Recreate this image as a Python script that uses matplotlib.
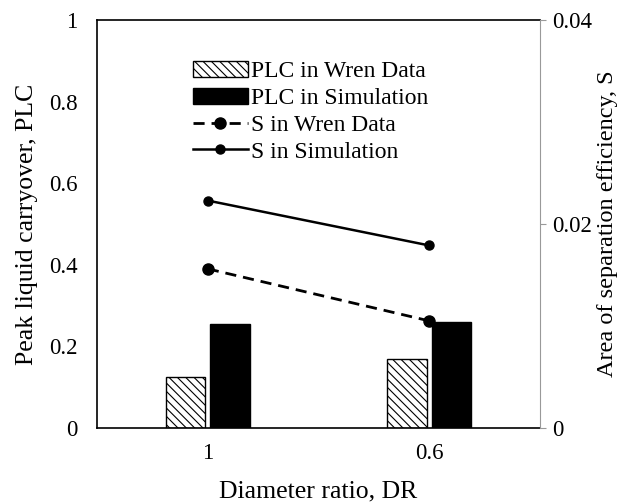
import matplotlib.pyplot as plt
import numpy as np

plt.rcParams['font.family'] = ['Liberation Serif', 'DejaVu Serif']
plt.rcParams['hatch.linewidth'] = 0.8

categories = ['1', '0.6']
plc_wren = [0.125, 0.169]
plc_sim = [0.255, 0.26]
s_wren = [0.0156, 0.0105]
s_sim = [0.0223, 0.0179]

x = np.arange(len(categories))
width = 0.178

fig = plt.figure(figsize=(6.19, 5.04), dpi=100)
ax = fig.add_axes([0.157, 0.151, 0.715, 0.809])
ax2 = ax.twinx()

b1 = ax.bar(x - 0.1, plc_wren, width, color='white', edgecolor='black',
            hatch='\\\\\\\\', linewidth=1, label='PLC in Wren Data')
b2 = ax.bar(x + 0.1, plc_sim, width, color='black', edgecolor='black',
            label='PLC in Simulation')
l1, = ax2.plot(x, s_wren, color='black', linestyle=(0, (4, 2.5)), linewidth=2,
               marker='o', markersize=8, label='S in Wren Data')
l2, = ax2.plot(x, s_sim, color='black', linestyle='-', linewidth=1.8,
               marker='o', markersize=6.5, label='S in Simulation')

ax.set_xlim(-0.5, 1.5)
ax.set_ylim(0, 1)
ax2.set_ylim(0, 0.04)
ax.set_xticks(x)
ax.set_xticklabels(categories)
ax.set_yticks([0, 0.2, 0.4, 0.6, 0.8, 1])
ax.set_yticklabels(['0', '0.2', '0.4', '0.6', '0.8', '1'])
ax2.set_yticks([0, 0.02, 0.04])
ax2.set_yticklabels(['0', '0.02', '0.04'])

ax.tick_params(axis='x', length=0, labelsize=16.5, pad=11)
ax.tick_params(axis='y', length=0, labelsize=16.5, pad=14)
ax2.tick_params(axis='y', length=4, color='#999999', labelsize=16.5, pad=5)
ax.spines['right'].set_visible(False)
ax2.spines['left'].set_visible(False)
ax2.spines['bottom'].set_visible(False)
ax2.spines['top'].set_visible(False)
ax2.spines['right'].set_color('#999999')
for s in ['left', 'bottom', 'top']:
    ax.spines[s].set_linewidth(1.2)

ax.set_xlabel('Diameter ratio, DR', fontsize=18.5, labelpad=12)
ax.set_ylabel('Peak liquid carryover, PLC', fontsize=18.5, labelpad=8)
ax2.set_ylabel('Area of separation efficiency, S', fontsize=17.5)
ax2.yaxis.set_label_coords(1.129, 0.5)

ax2.legend([b1, b2, l1, l2],
           ['PLC in Wren Data', 'PLC in Simulation', 'S in Wren Data', 'S in Simulation'],
           loc='upper left', bbox_to_anchor=(0.217, 0.90), frameon=False,
           borderpad=0, borderaxespad=0,
           fontsize=17, handlelength=2.3, handletextpad=0.15, labelspacing=0.22)

fig.savefig('out.png', dpi=100)
